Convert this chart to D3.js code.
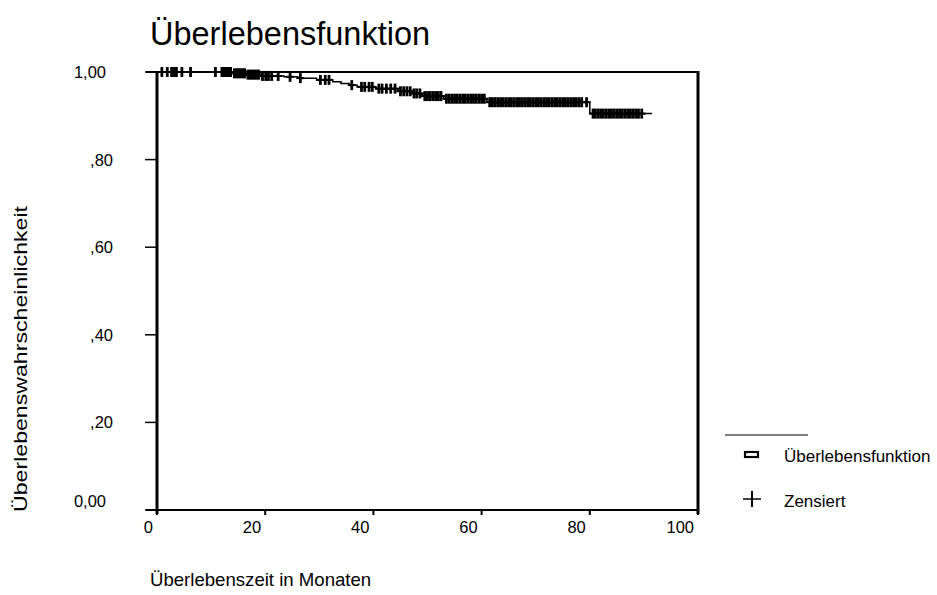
<!DOCTYPE html>
<html>
<head>
<meta charset="utf-8">
<script src="https://cdn.jsdelivr.net/npm/d3@7"></script>
<style>
  html, body { margin: 0; padding: 0; background: #fff; }
  svg { display: block; }
  text { font-family: "Liberation Sans", Arial, sans-serif; fill: #000; }
</style>
</head>
<body>
<svg id="chart" width="937" height="595"></svg>
<script>
// Kaplan-Meier step curve: event times (months) and survival after each step
const stepTimes = [0, 14.0, 16.5, 19.0, 23.5, 26.0, 29.5, 32.5, 34.0, 35.5, 37.0, 40.5, 44.5, 47.0, 49.0, 53.0, 61.0, 80.0];
const survival  = [1.000, 0.997, 0.994, 0.991, 0.989, 0.986, 0.982, 0.978, 0.974, 0.970, 0.966, 0.962, 0.956, 0.951, 0.945, 0.939, 0.931, 0.905];
const lastFollowUp = 91.5;

// censored observations (months)
const censorTimes = [
  0.9, 1.9, 2.7, 3.0, 3.3, 3.6, 4.6, 6.2, 10.8, 12.0, 12.4, 12.8, 13.2, 13.6,
  14.3, 14.7, 15.1, 15.5, 15.9, 16.2, 16.8, 17.2, 17.6, 18.0, 18.4, 18.8,
  19.5, 20.1, 20.6, 21.2, 22.4, 24.6, 26.5, 30.2, 31.1, 31.8,
  36.0, 37.8, 38.4, 39.2, 39.8, 41.0, 41.6, 42.4, 43.2, 44.0,
  45.0, 45.6, 46.2, 46.8, 47.5, 48.0, 48.6, 49.5, 50.0, 50.5, 51.0, 51.5, 52.0, 52.5,
  53.5, 54.0, 54.5, 55.0, 55.5, 56.0, 56.5, 57.0, 57.5, 58.0, 58.5, 59.0, 59.5, 60.0, 60.5,
  61.5, 62.0, 62.5, 63.0, 63.5, 64.0, 64.5, 65.0, 65.5, 66.0, 66.5, 67.0, 67.5, 68.0, 68.5,
  69.0, 69.5, 70.0, 70.5, 71.0, 71.5, 72.0, 72.5, 73.0, 73.5, 74.0, 74.5, 75.0, 75.5, 76.0,
  76.5, 77.0, 77.5, 78.0, 78.5, 79.4,
  80.6, 81.0, 81.5, 82.0, 82.5, 83.0, 83.5, 84.0, 84.5, 85.0, 85.5, 86.0, 86.5, 87.0,
  87.5, 88.0, 88.5, 89.0, 89.6
];

const xTicks = [0, 20, 40, 60, 80, 100];
const yTicks = [0, 0.2, 0.4, 0.6, 0.8, 1.0];
const yTickLabels = ["0,00", ",20", ",40", ",60", ",80", "1,00"];

const title = "Überlebensfunktion";
const xTitle = "Überlebenszeit in Monaten";
const yTitle = "Überlebenswahrscheinlichkeit";
const legendItems = ["Überlebensfunktion", "Zensiert"];

const svg = d3.select("#chart");

const x = d3.scaleLinear().domain([0, 100]).range([157, 698]);
const y = d3.scaleLinear().domain([0, 1]).range([510, 72]);

// survival value in effect at time t
const survAt = t => {
  const i = d3.bisectRight(stepTimes, t) - 1;
  return survival[Math.max(0, i)];
};

// frame
const frame = svg.append("g").attr("stroke", "#000").attr("fill", "none");
frame.append("line").attr("x1", 146).attr("x2", x(100)).attr("y1", y(1)).attr("y2", y(1)).attr("stroke-width", 2);
frame.append("line").attr("x1", 146).attr("x2", x(100)).attr("y1", y(0)).attr("y2", y(0)).attr("stroke-width", 2);
frame.append("line").attr("x1", x(0)).attr("x2", x(0)).attr("y1", y(1) - 1).attr("y2", y(0) + 4).attr("stroke-width", 3);
frame.append("line").attr("x1", x(100)).attr("x2", x(100)).attr("y1", y(1) - 1).attr("y2", y(0) + 4).attr("stroke-width", 3);

// y axis ticks and labels
const yAxis = svg.append("g");
yAxis.selectAll("line.tick").data(yTicks).join("line")
  .attr("x1", 145).attr("x2", x(0))
  .attr("y1", d => y(d)).attr("y2", d => y(d))
  .attr("stroke", "#000").attr("stroke-width", 1.5);
yAxis.selectAll("text").data(yTicks).join("text")
  .attr("x", (d, i) => yTickLabels[i].startsWith(",") ? 113 : 106)
  .attr("y", d => y(d) + (d === 0 ? -3 : 6))
  .attr("text-anchor", "end")
  .attr("font-size", 16.5)
  .text((d, i) => yTickLabels[i]);

// x axis ticks and labels
const xAxis = svg.append("g");
xAxis.selectAll("line").data(xTicks).join("line")
  .attr("x1", d => x(d)).attr("x2", d => x(d))
  .attr("y1", y(0)).attr("y2", y(0) + 5)
  .attr("stroke", "#000").attr("stroke-width", 2);
xAxis.selectAll("text").data(xTicks).join("text")
  .attr("x", d => x(d) - 4)
  .attr("y", y(0) + 23)
  .attr("text-anchor", "end")
  .attr("font-size", 16.5)
  .text(d => d);

// titles
svg.append("text").attr("x", 150).attr("y", 45).attr("font-size", 32.5).text(title);
svg.append("text").attr("x", 150).attr("y", 586).attr("font-size", 18.6).text(xTitle);
svg.append("text")
  .attr("transform", `translate(27, ${(y(0) + 3 + 205) / 2}) rotate(-90)`)
  .attr("text-anchor", "middle")
  .attr("font-size", 17.5)
  .attr("textLength", 306)
  .attr("lengthAdjust", "spacingAndGlyphs")
  .text(yTitle);

// survival curve
const pts = stepTimes.map((t, i) => [t, survival[i]]);
pts.push([lastFollowUp, survival[survival.length - 1]]);
const line = d3.line().x(d => x(d[0])).y(d => y(d[1])).curve(d3.curveStepAfter);
svg.append("path").datum(pts)
  .attr("d", line)
  .attr("fill", "none").attr("stroke", "#000").attr("stroke-width", 1.5);

// censor marks
const cens = svg.append("g").attr("stroke", "#000");
cens.selectAll("line.v").data(censorTimes).join("line").attr("class", "v")
  .attr("x1", d => x(d)).attr("x2", d => x(d))
  .attr("y1", d => y(survAt(d)) - 5).attr("y2", d => y(survAt(d)) + 5)
  .attr("stroke-width", 2.8);
cens.selectAll("line.h").data(censorTimes).join("line").attr("class", "h")
  .attr("x1", d => x(d) - 4).attr("x2", d => x(d) + 4)
  .attr("y1", d => y(survAt(d))).attr("y2", d => y(survAt(d)))
  .attr("stroke-width", 2);

// legend
const lg = svg.append("g");
lg.append("line").attr("x1", 725).attr("x2", 808).attr("y1", 435).attr("y2", 435)
  .attr("stroke", "#000").attr("stroke-width", 1);
lg.append("rect").attr("x", 745).attr("y", 452).attr("width", 13).attr("height", 5)
  .attr("fill", "#fff").attr("stroke", "#000").attr("stroke-width", 2.2);
lg.append("line").attr("x1", 743).attr("x2", 761).attr("y1", 499).attr("y2", 499)
  .attr("stroke", "#000").attr("stroke-width", 1.5);
lg.append("line").attr("x1", 752).attr("x2", 752).attr("y1", 491).attr("y2", 507)
  .attr("stroke", "#000").attr("stroke-width", 2);
lg.selectAll("text").data(legendItems).join("text")
  .attr("x", 784)
  .attr("y", (d, i) => 462 + i * 45)
  .attr("font-size", 17)
  .text(d => d);
</script>
</body>
</html>
